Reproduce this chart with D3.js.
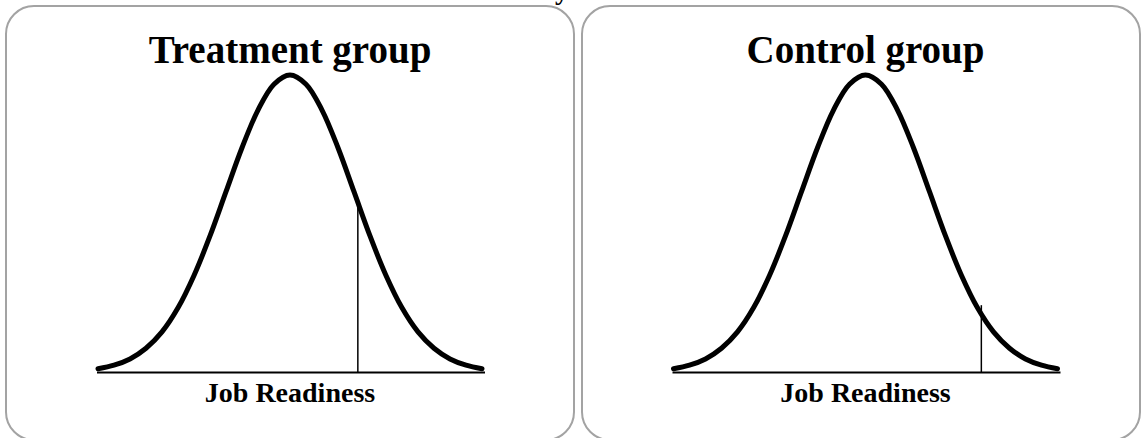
<!DOCTYPE html>
<html>
<head>
<meta charset="utf-8">
<script src="https://cdn.jsdelivr.net/npm/d3@7"></script>
<style>
  body { margin: 0; background: #fff; }
  svg { display: block; }
</style>
</head>
<body>
<div id="chart"></div>
<script>
// panel titles and cutoff position (in sd units)
const titles = ["Treatment group", "Control group"];
const axisLabel = "Job Readiness";
const cutoffZ = [1.06, 1.81];
const cutoffH = [0.56, 0.225];

// bell curve, relative height read at quarter-sd steps
const curveZ = [-3, -2.75, -2.5, -2.25, -2, -1.75, -1.5, -1.25, -1, -0.75, -0.5, -0.25,
  0, 0.25, 0.5, 0.75, 1, 1.25, 1.5, 1.75, 2, 2.25, 2.5, 2.75, 3];
const curveH = [0.011, 0.023, 0.044, 0.08, 0.135, 0.216, 0.325, 0.458, 0.607, 0.755, 0.882, 0.969,
  1, 0.969, 0.882, 0.755, 0.607, 0.458, 0.325, 0.216, 0.135, 0.08, 0.044, 0.023, 0.011];

const width = 1145;
const height = 438;

const panels = [
  {x: 6, w: 568, cx: 290},
  {x: 582, w: 558, cx: 865.5}
];

const svg = d3.select("#chart").append("svg")
  .attr("width", width)
  .attr("height", height);

// caption above the panels is cropped, only the descender shows
svg.append("text")
  .attr("x", 555)
  .attr("y", -1)
  .style("font", "bold 28px 'Liberation Serif', serif")
  .text("y");

const y = d3.scaleLinear().domain([0, 1]).range([372, 75]);

panels.forEach((p, i) => {
  const x = d3.scaleLinear().domain([-3, 3]).range([p.cx - 192, p.cx + 192]);
  const g = svg.append("g");

  g.append("rect")
    .attr("x", p.x)
    .attr("y", 6)
    .attr("width", p.w)
    .attr("height", 434)
    .attr("rx", 28)
    .attr("fill", "none")
    .attr("stroke", "#a3a3a3")
    .attr("stroke-width", 2);

  g.append("text")
    .attr("x", p.cx)
    .attr("y", 63)
    .attr("text-anchor", "middle")
    .style("font", "bold 39px 'Liberation Serif', serif")
    .text(titles[i]);

  // baseline
  g.append("line")
    .attr("x1", x(-3) - 1)
    .attr("x2", x(3) + 3)
    .attr("y1", y(0) + 0.5)
    .attr("y2", y(0) + 0.5)
    .attr("stroke", "#000")
    .attr("stroke-width", 2);

  // cutoff
  g.append("line")
    .attr("x1", x(cutoffZ[i]))
    .attr("x2", x(cutoffZ[i]))
    .attr("y1", y(0))
    .attr("y2", y(cutoffH[i]))
    .attr("stroke", "#000")
    .attr("stroke-width", 1.5);

  const line = d3.line()
    .x((d, j) => x(curveZ[j]))
    .y(d => y(d))
    .curve(d3.curveCatmullRom);

  g.append("path")
    .attr("d", line(curveH))
    .attr("fill", "none")
    .attr("stroke", "#000")
    .attr("stroke-width", 5)
    .attr("stroke-linecap", "round");

  g.append("text")
    .attr("x", p.cx)
    .attr("y", 402)
    .attr("text-anchor", "middle")
    .style("font", "bold 28px 'Liberation Serif', serif")
    .text(axisLabel);
});
</script>
</body>
</html>
